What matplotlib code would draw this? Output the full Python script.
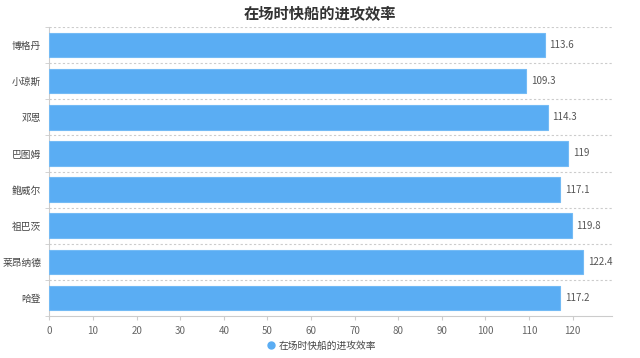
import matplotlib
matplotlib.use("Agg")
import matplotlib.pyplot as plt
import numpy as np

plt.rcParams['font.family'] = ['Noto Sans CJK SC', 'DejaVu Sans']

players = ["博格丹", "小琼斯", "邓恩", "巴图姆", "鲍威尔", "祖巴茨", "莱昂纳德", "哈登"]
values = [113.6, 109.3, 114.3, 119, 117.1, 119.8, 122.4, 117.2]
labels = ["113.6", "109.3", "114.3", "119", "117.1", "119.8", "122.4", "117.2"]
title = "在场时快船的进攻效率"
xticks = [0, 10, 20, 30, 40, 50, 60, 70, 80, 90, 100, 110, 120]

fig = plt.figure(figsize=(6.4, 3.58), dpi=100)
ax = fig.add_axes([0.0773, 0.117, 0.8787, 0.8076])

n = len(players)
y = np.arange(n)
ax.barh(y, values, height=0.68, color='#5aadf3', edgecolor='#74bbf5', linewidth=0.8, zorder=3)
ax.set_ylim(n - 0.5, -0.5)
ax.set_xlim(0, 129)

for yi, v, lab in zip(y, values, labels):
    ax.text(v + 1.1, yi, lab, va='center', ha='left', fontsize=7, color='#555555')

ax.set_yticks(y)
ax.set_yticklabels(players, fontsize=7, color='#444444')
ax.set_yticks(np.arange(n + 1) - 0.5, minor=True)
ax.tick_params(axis='y', which='major', length=0, pad=6)
ax.tick_params(axis='y', which='minor', length=3, color='#cccccc')
ax.set_xticks(xticks)
ax.set_xticklabels([str(t) for t in xticks], fontsize=7, color='#666666')
ax.tick_params(axis='x', length=3, color='#cccccc', pad=4)

for b in np.arange(n + 1)[:-1] - 0.5:
    ax.axhline(b, color='#cccccc', linestyle=(0, (2, 2)), linewidth=0.8, zorder=1)

for s in ['top', 'right']:
    ax.spines[s].set_visible(False)
ax.spines['left'].set_color('#cccccc')
ax.spines['bottom'].set_color('#cccccc')

fig.text(0.5, 0.96, title, ha='center', va='center', fontsize=11, fontweight='bold', color='#333333')

fig.lines.append(plt.Line2D([0.424], [0.035], transform=fig.transFigure, marker='o', markersize=5,
                            color='#5aadf3', linestyle='none'))
fig.text(0.436, 0.035, title, ha='left', va='center', fontsize=7, color='#444444')

fig.savefig("out.png", dpi=100)
